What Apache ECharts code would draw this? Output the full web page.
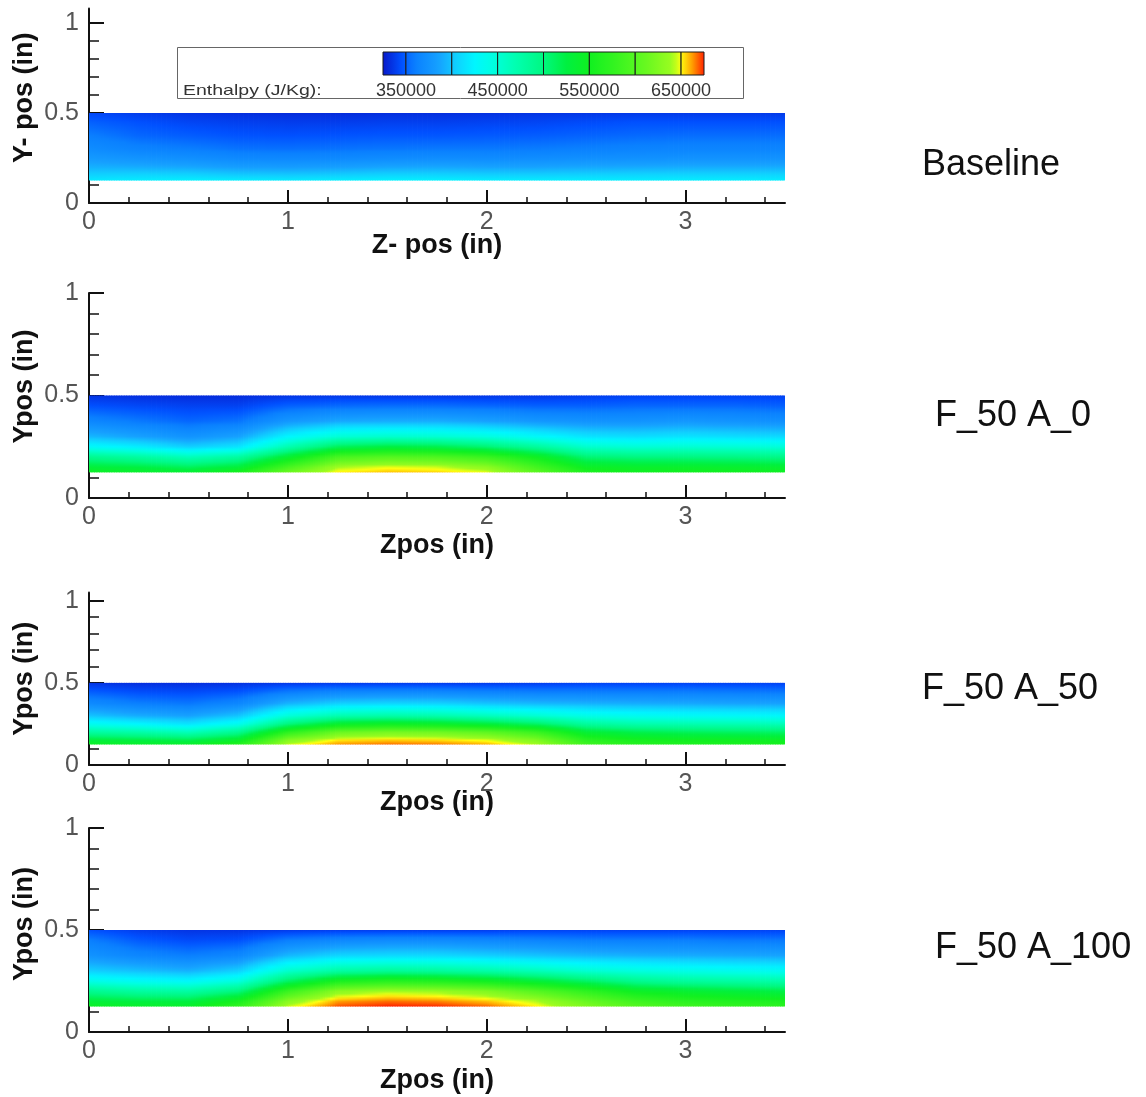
<!DOCTYPE html>
<html>
<head>
<meta charset="utf-8">
<title>Enthalpy contours</title>
<script src="https://cdn.jsdelivr.net/npm/echarts@6/dist/echarts.min.js"></script>
<style>
html, body { margin: 0; padding: 0; background: #fff; }
#chart { width: 1146px; height: 1097px; }
</style>
</head>
<body>
<div id="chart"></div>
<script>
// node positions (in)
const zPos = [0, 0.25, 0.5, 0.75, 1, 1.25, 1.5, 1.75, 2, 2.25, 2.5, 2.75, 3, 3.25, 3.5];
const yPos = [0.125, 0.15, 0.2, 0.25, 0.3, 0.375, 0.45, 0.5];

// enthalpy (J/Kg), one row per zPos, bottom -> top as yPos
const hBaseline = [
  [418000, 408000, 392000, 380000, 370000, 360000, 350000, 342000],
  [420000, 410000, 390000, 375000, 363000, 352000, 345000, 338000],
  [422000, 410000, 388000, 372000, 360000, 349000, 341000, 335000],
  [420000, 406000, 383000, 367000, 356000, 346000, 339000, 333000],
  [418000, 405000, 382000, 366000, 355000, 345000, 338000, 332000],
  [420000, 407000, 384000, 367000, 356000, 346000, 338000, 332000],
  [422000, 410000, 387000, 369000, 357000, 347000, 339000, 333000],
  [422000, 410000, 388000, 370000, 358000, 347000, 339000, 333000],
  [420000, 408000, 386000, 369000, 358000, 348000, 340000, 334000],
  [420000, 408000, 386000, 370000, 359000, 349000, 341000, 335000],
  [420000, 409000, 388000, 372000, 361000, 351000, 343000, 336000],
  [420000, 410000, 389000, 373000, 363000, 353000, 345000, 337000],
  [421000, 410000, 390000, 374000, 364000, 354000, 345000, 337000],
  [421000, 410000, 390000, 374000, 364000, 354000, 345000, 337000],
  [420000, 410000, 390000, 374000, 364000, 354000, 345000, 337000]
];
const hF50A0 = [
  [545000, 530000, 490000, 430000, 395000, 365000, 345000, 335000],
  [540000, 525000, 480000, 420000, 385000, 358000, 342000, 333000],
  [535000, 515000, 465000, 405000, 375000, 352000, 340000, 332000],
  [555000, 530000, 480000, 415000, 385000, 356000, 340000, 332000],
  [615000, 590000, 535000, 470000, 425000, 378000, 350000, 335000],
  [652000, 640000, 590000, 515000, 450000, 388000, 353000, 336000],
  [658000, 648000, 600000, 525000, 455000, 390000, 354000, 336000],
  [656000, 645000, 595000, 520000, 452000, 390000, 354000, 336000],
  [648000, 632000, 580000, 505000, 445000, 385000, 352000, 336000],
  [605000, 588000, 548000, 482000, 430000, 378000, 350000, 336000],
  [560000, 545000, 505000, 455000, 415000, 375000, 350000, 338000],
  [550000, 540000, 500000, 450000, 412000, 375000, 352000, 340000],
  [552000, 540000, 500000, 452000, 415000, 378000, 352000, 340000],
  [550000, 538000, 498000, 450000, 412000, 375000, 352000, 340000],
  [548000, 535000, 495000, 448000, 410000, 372000, 350000, 340000]
];
const hF50A50 = [
  [545000, 530000, 480000, 435000, 400000, 368000, 348000, 335000],
  [540000, 525000, 475000, 425000, 390000, 360000, 343000, 333000],
  [540000, 520000, 465000, 415000, 385000, 357000, 342000, 333000],
  [565000, 540000, 490000, 435000, 400000, 365000, 345000, 334000],
  [645000, 628000, 570000, 500000, 448000, 393000, 357000, 336000],
  [663000, 653000, 612000, 537000, 470000, 405000, 362000, 337000],
  [667000, 657000, 620000, 545000, 475000, 408000, 363000, 337000],
  [666000, 655000, 616000, 540000, 472000, 406000, 363000, 337000],
  [660000, 648000, 605000, 528000, 463000, 400000, 360000, 337000],
  [642000, 626000, 580000, 510000, 452000, 395000, 358000, 338000],
  [585000, 570000, 532000, 482000, 440000, 392000, 358000, 340000],
  [565000, 555000, 520000, 472000, 435000, 390000, 358000, 340000],
  [560000, 550000, 515000, 470000, 432000, 388000, 358000, 340000],
  [558000, 548000, 512000, 468000, 430000, 386000, 357000, 340000],
  [555000, 545000, 510000, 465000, 428000, 385000, 356000, 340000]
];
const hF50A100 = [
  [545000, 530000, 490000, 440000, 405000, 375000, 360000, 345000],
  [540000, 525000, 480000, 432000, 398000, 365000, 348000, 338000],
  [540000, 525000, 478000, 428000, 392000, 360000, 343000, 335000],
  [575000, 555000, 500000, 445000, 405000, 366000, 345000, 335000],
  [645000, 630000, 580000, 510000, 455000, 395000, 360000, 337000],
  [670000, 662000, 630000, 555000, 478000, 408000, 366000, 338000],
  [675000, 667000, 640000, 565000, 485000, 410000, 368000, 338000],
  [674000, 665000, 636000, 560000, 482000, 410000, 368000, 338000],
  [668000, 658000, 625000, 548000, 475000, 405000, 366000, 338000],
  [652000, 642000, 600000, 530000, 465000, 400000, 363000, 340000],
  [625000, 612000, 572000, 510000, 452000, 395000, 360000, 340000],
  [600000, 585000, 545000, 490000, 445000, 392000, 360000, 340000],
  [585000, 570000, 535000, 482000, 440000, 390000, 360000, 340000],
  [575000, 562000, 528000, 478000, 436000, 388000, 358000, 340000],
  [570000, 558000, 522000, 474000, 433000, 386000, 358000, 340000]
];

const legendLevels = [325000, 350000, 400000, 450000, 500000, 550000, 600000, 650000, 675000];
const legendLabels = [350000, 450000, 550000, 650000];
const caseNames = ['Baseline', 'F_50 A_0', 'F_50 A_50', 'F_50 A_100'];
const xMajor = [0, 1, 2, 3];
const xMinor = [0.2, 0.4, 0.6, 0.8, 1.2, 1.4, 1.6, 1.8, 2.2, 2.4, 2.6, 2.8, 3.2, 3.4];
const yMajor = [0, 0.5, 1];
const yMinor = [0.1, 0.2, 0.3, 0.4, 0.6, 0.7, 0.8, 0.9];

// rainbow flood colours
const cmap = [
  [325000, '#0818c8'], [345000, '#0050ff'], [360000, '#0a80ff'], [385000, '#16a0ff'],
  [405000, '#10d0ff'], [425000, '#00f6ff'], [445000, '#00ffe0'], [470000, '#00ffb0'],
  [500000, '#00f880'], [525000, '#00f040'], [550000, '#10f020'], [580000, '#38f420'],
  [610000, '#64f820'], [640000, '#9cfc20'], [650000, '#ffff10'], [662000, '#ffa000'],
  [675000, '#ff2000']
].map(function (s) {
  const h = s[1];
  return [s[0], [parseInt(h.substr(1, 2), 16), parseInt(h.substr(3, 2), 16), parseInt(h.substr(5, 2), 16)]];
});

function colorOf(v) {
  if (v <= cmap[0][0]) v = cmap[0][0];
  if (v >= cmap[cmap.length - 1][0]) v = cmap[cmap.length - 1][0];
  for (let i = 0; i < cmap.length - 1; i++) {
    const a = cmap[i], b = cmap[i + 1];
    if (v <= b[0]) {
      const t = (v - a[0]) / (b[0] - a[0]);
      const c = a[1].map(function (x, k) { return Math.round(x + (b[1][k] - x) * t); });
      return 'rgb(' + c.join(',') + ')';
    }
  }
  return 'rgb(255,32,0)';
}

// vertical colour stops for one column of values
function columnStops(col) {
  const y0 = yPos[0], y1 = yPos[yPos.length - 1];
  const stops = [];
  for (let r = 0; r < col.length - 1; r++) {
    for (let s = (r === 0 ? 0 : 1); s <= 4; s++) {
      const f = s / 4;
      const y = yPos[r] + (yPos[r + 1] - yPos[r]) * f;
      const v = col[r] + (col[r + 1] - col[r]) * f;
      stops.push({ offset: (y - y0) / (y1 - y0), color: colorOf(v) });
    }
  }
  return stops;
}

function fieldRender(field) {
  return function (params, api) {
    const i = api.value(2);
    const a = api.coord([zPos[i], yPos[yPos.length - 1]]);
    const b = api.coord([zPos[i + 1], yPos[0]]);
    const w = b[0] - a[0], h = b[1] - a[1];
    const n = Math.max(1, Math.round(w / 2.5));
    const children = [];
    for (let k = 0; k < n; k++) {
      const t = (k + 0.5) / n;
      const col = field[i].map(function (v, r) { return v + (field[i + 1][r] - v) * t; });
      children.push({
        type: 'rect',
        shape: { x: a[0] + w * k / n, y: a[1], width: w / n + (k < n - 1 || i < zPos.length - 2 ? 0.8 : 0), height: h },
        style: { fill: new echarts.graphic.LinearGradient(0, 1, 0, 0, columnStops(col)) }
      });
    }
    return { type: 'group', children: children };
  };
}

const fields = [hBaseline, hF50A0, hF50A50, hF50A100];
const panels = [
  { top: 8.6, height: 194.4, ymax: 1.08, yName: 'Y- pos (in)', xName: 'Z- pos (in)', gap: 29, yPad: 16, lx: 922, ly: 162 },
  { top: 293, height: 205, ymax: 1, yName: 'Ypos (in)', xName: 'Zpos (in)', gap: 34, yPad: 18, lx: 935, ly: 413 },
  { top: 592.5, height: 172.5, ymax: 1.05, yName: 'Ypos (in)', xName: 'Zpos (in)', gap: 24, yPad: 0, lx: 922, ly: 686 },
  { top: 828, height: 204, ymax: 1, yName: 'Ypos (in)', xName: 'Zpos (in)', gap: 35, yPad: 12, lx: 935, ly: 945 }
];

const FONT = 'Liberation Sans, Arial, sans-serif';
const grid = [], xAxis = [], yAxis = [], series = [], graphic = [];

panels.forEach(function (p, i) {
  grid.push({ left: 89, width: 696, top: p.top, height: p.height });
  xAxis.push({
    type: 'value', gridIndex: i, min: 0, max: 3.5, position: 'bottom',
    name: p.xName, nameLocation: 'middle', nameGap: p.gap, nameMoveOverlap: false,
    nameTextStyle: { fontFamily: FONT, fontWeight: 'bold', fontSize: 27, color: '#111' },
    axisLine: { onZero: false, lineStyle: { color: '#111', width: 2 } },
    axisTick: { inside: true, length: 13, customValues: xMajor, lineStyle: { color: '#111', width: 2 } },
    axisLabel: { customValues: xMajor, fontFamily: FONT, fontSize: 25, color: '#555', margin: 7 },
    splitLine: { show: false }
  });
  xAxis.push({
    type: 'value', gridIndex: i, min: 0, max: 3.5, position: 'bottom',
    axisLine: { show: false },
    axisTick: { inside: true, length: 6, customValues: xMinor, lineStyle: { color: '#111', width: 1.5 } },
    axisLabel: { show: false }, splitLine: { show: false }
  });
  yAxis.push({
    type: 'value', gridIndex: i, min: 0, max: p.ymax, position: 'left',
    name: p.yName, nameLocation: 'middle', nameGap: 51, nameMoveOverlap: false,
    nameTextStyle: { fontFamily: FONT, fontWeight: 'bold', fontSize: 27, color: '#111', padding: [0, 0, 0, p.yPad] },
    axisLine: { show: true, onZero: false, lineStyle: { color: '#111', width: 2 } },
    axisTick: { show: true, inside: true, length: 15, customValues: yMajor, lineStyle: { color: '#111', width: 2 } },
    axisLabel: { customValues: yMajor, fontFamily: FONT, fontSize: 25, color: '#555', margin: 10 },
    splitLine: { show: false }
  });
  yAxis.push({
    type: 'value', gridIndex: i, min: 0, max: p.ymax, position: 'left',
    axisLine: { show: false },
    axisTick: { show: true, inside: true, length: 10, customValues: yMinor, lineStyle: { color: '#111', width: 1.5 } },
    axisLabel: { show: false }, splitLine: { show: false }
  });
  series.push({
    type: 'custom', name: caseNames[i], xAxisIndex: 2 * i, yAxisIndex: 2 * i,
    encode: { x: [0, 1] },
    data: zPos.slice(0, -1).map(function (z, k) { return [z, zPos[k + 1], k]; }),
    renderItem: fieldRender(fields[i]),
    silent: true
  });
  graphic.push({
    type: 'text', left: p.lx, top: p.ly - 15,
    style: { text: caseNames[i], fontFamily: FONT, fontSize: 36, fill: '#111' }
  });
});

// colour legend
grid.push({ left: 383, width: 321, top: 52, height: 23 });
xAxis.push({
  type: 'value', gridIndex: 4, min: 325000, max: 675000,
  axisLine: { show: false }, axisTick: { show: false }, splitLine: { show: false },
  axisLabel: {
    customValues: legendLabels, fontFamily: FONT, fontSize: 18, color: '#333', margin: 7,
    formatter: function (v) { return String(v); }
  }
});
yAxis.push({ type: 'value', gridIndex: 4, min: 0, max: 1, show: false });
series.push({
  type: 'custom', name: 'legend', xAxisIndex: 8, yAxisIndex: 8,
  encode: { x: [0, 1] },
  data: legendLevels.slice(0, -1).map(function (v, k) { return [v, legendLevels[k + 1]]; }),
  renderItem: function (params, api) {
    const v0 = api.value(0), v1 = api.value(1);
    const a = api.coord([v0, 1]), b = api.coord([v1, 0]);
    const stops = [];
    for (let s = 0; s <= 8; s++) stops.push({ offset: s / 8, color: colorOf(v0 + (v1 - v0) * s / 8) });
    return {
      type: 'rect',
      shape: { x: a[0], y: a[1], width: b[0] - a[0], height: b[1] - a[1] },
      style: { fill: new echarts.graphic.LinearGradient(0, 0, 1, 0, stops), stroke: '#1a1a1a', lineWidth: 1 }
    };
  },
  silent: true
});
graphic.push({
  type: 'rect', left: 177, top: 47, z: -1,
  shape: { width: 566, height: 51 },
  style: { fill: '#fff', stroke: '#666', lineWidth: 1 }
});
graphic.push({
  type: 'text', x: 183, y: 91, scaleX: 1.3,
  style: { text: 'Enthalpy (J/Kg):', fontFamily: FONT, fontSize: 15, fill: '#333', verticalAlign: 'middle' }
});

const chart = echarts.init(document.getElementById('chart'), null, { renderer: 'canvas' });
chart.setOption({
  backgroundColor: '#fff',
  animation: false,
  grid: grid,
  xAxis: xAxis,
  yAxis: yAxis,
  series: series,
  graphic: graphic
});
</script>
</body>
</html>
